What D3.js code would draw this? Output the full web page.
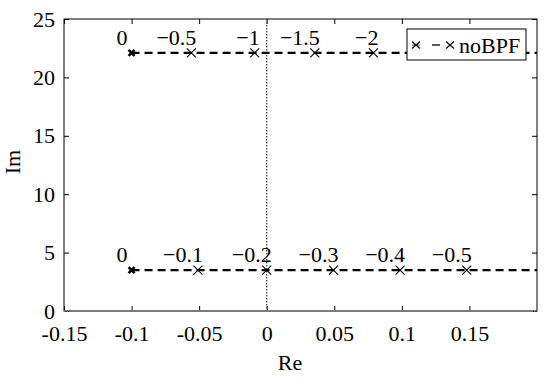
<!DOCTYPE html>
<html><head><meta charset="utf-8">
<script src="https://cdn.jsdelivr.net/npm/d3@7"></script>
<style>body{margin:0;background:#fff}</style>
</head><body><svg id="c" width="550" height="382"></svg>
<script>
// Data
const xTicks = [-0.15, -0.1, -0.05, 0, 0.05, 0.1, 0.15];
const xTickLabels = ["-0.15", "-0.1", "-0.05", "0", "0.05", "0.1", "0.15"];
const yTicks = [0, 5, 10, 15, 20, 25];
const topRe = [-0.1, -0.0558, -0.0089, 0.0356, 0.079];
const topIm = 22.1;
const topLabels = ["0", "\u22120.5", "\u22121", "\u22121.5", "\u22122"];
const botRe = [-0.1, -0.0509, 0.0, 0.0494, 0.0987, 0.148];
const botIm = 3.5;
const botLabels = ["0", "\u22120.1", "\u22120.2", "\u22120.3", "\u22120.4", "\u22120.5"];
const legendLabel = "noBPF";

const svg = d3.select("#c");
const L = 64, R = 537, T = 19, B = 311;
const x = d3.scaleLinear().domain([-0.15, 0.2]).range([L, R]);
const y = d3.scaleLinear().domain([0, 25]).range([B, T]);
const FS = "22px", FF = "'Liberation Serif'";

function styleText(sel) {
  sel.style("font-family", FF).style("font-size", FS).attr("fill", "#000");
}
function addText(px, py, str, anchor, rot) {
  const t = svg.append("text")
    .attr("transform", `translate(${px},${py})${rot ? " rotate(" + rot + ")" : ""}`)
    .attr("text-anchor", anchor).text(str);
  styleText(t);
  return t;
}

// box
svg.append("rect").attr("x", L).attr("y", T).attr("width", R - L).attr("height", B - T)
  .attr("fill", "none").attr("stroke", "#000").attr("stroke-width", 1);

// bottom axis
const xa = svg.append("g").attr("transform", `translate(0,${B})`)
  .call(d3.axisBottom(x).tickValues(xTicks).tickFormat((d, i) => xTickLabels[i]).tickSizeInner(-5).tickSizeOuter(0).tickPadding(14));
xa.select(".domain").remove();
styleText(xa.selectAll("text"));
const xt = svg.append("g").attr("transform", `translate(0,${T})`)
  .call(d3.axisTop(x).tickValues(xTicks).tickFormat("").tickSizeInner(-5).tickSizeOuter(0));
xt.select(".domain").remove();

// left axis
const ya = svg.append("g").attr("transform", `translate(${L},0)`)
  .call(d3.axisLeft(y).tickValues(yTicks).tickSizeInner(-5).tickSizeOuter(0).tickPadding(9));
ya.select(".domain").remove();
styleText(ya.selectAll("text"));
const yr = svg.append("g").attr("transform", `translate(${R},0)`)
  .call(d3.axisRight(y).tickValues(yTicks).tickFormat("").tickSizeInner(-5).tickSizeOuter(0));
yr.select(".domain").remove();

// reference dotted lines
svg.append("line").attr("x1", x(0)).attr("x2", x(0)).attr("y1", T).attr("y2", B)
  .attr("stroke", "#555").attr("stroke-width", 1.4).attr("stroke-dasharray", "1.5,1.5");
svg.append("line").attr("x1", L).attr("x2", R).attr("y1", y(0)).attr("y2", y(0))
  .attr("stroke", "#777").attr("stroke-width", 2).attr("stroke-dasharray", "1.5,1");

function series(re, im, labels) {
  svg.append("line").attr("x1", x(re[0])).attr("x2", x.range()[1]).attr("y1", y(im)).attr("y2", y(im))
    .attr("stroke", "#000").attr("stroke-width", 2.2).attr("stroke-dasharray", "8,5");
  re.forEach((r, i) => {
    const cx = x(r), cy = y(im);
    const s = i === 0 ? 3 : 4.5;
    const w = i === 0 ? 2.6 : 1.1;
    svg.append("path").attr("d", `M${cx - s},${cy - s}L${cx + s},${cy + s}M${cx - s},${cy + s}L${cx + s},${cy - s}`)
      .attr("stroke", "#000").attr("stroke-width", w).attr("fill", "none");
    addText(i === 0 ? cx - 4 : cx + 5, cy - 8, labels[i], "end");
  });
}
series(topRe, topIm, topLabels);
series(botRe, botIm, botLabels);

// legend
const lg = svg.append("g");
lg.append("rect").attr("x", 407).attr("y", 29).attr("width", 119).attr("height", 31)
  .attr("fill", "#fff").attr("stroke", "#000").attr("stroke-width", 1);
const ly = 45;
[416, 450].forEach(cx => {
  lg.append("path").attr("d", `M${cx - 4},${ly - 3.5}L${cx + 4},${ly + 3.5}M${cx - 4},${ly + 3.5}L${cx + 4},${ly - 3.5}`)
    .attr("stroke", "#000").attr("stroke-width", 1.1);
});
lg.append("line").attr("x1", 412).attr("x2", 420).attr("y1", ly).attr("y2", ly).attr("stroke", "#000").attr("stroke-width", 0.8);
lg.append("line").attr("x1", 432).attr("x2", 440).attr("y1", ly).attr("y2", ly).attr("stroke", "#000").attr("stroke-width", 1.3);
addText(459, ly + 7.5, legendLabel, "start");

// axis labels
addText(290, 370, "Re", "middle");
addText(20, 162, "Im", "middle", -90);
</script></body></html>
